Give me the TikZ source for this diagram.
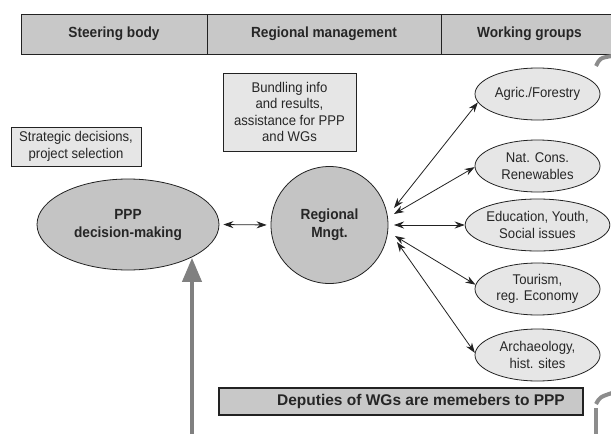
\documentclass[tikz,border=0pt]{standalone}
\usepackage{fontspec}
\setmainfont{Liberation Sans}[FakeStretch=0.93]
\newfontfamily\plainsans{Liberation Sans}
\usetikzlibrary{shapes.geometric,arrows.meta,calc}

\definecolor{barfill}{HTML}{C8C8C8}
\definecolor{boxfill}{HTML}{E6E6E6}
\definecolor{bodyfill}{HTML}{C4C4C4}
\definecolor{inkline}{HTML}{222222}
\definecolor{flowgray}{HTML}{808080}
\definecolor{loopgray}{HTML}{8C8C8C}

\begin{document}
\begin{tikzpicture}[x=1pt,y=-1pt,
  txt/.style={font=\fontsize{14.1}{16.5}\selectfont, align=center, text=black!85},
  hdrcell/.style={draw=inkline, line width=0.9pt, fill=barfill, rectangle,
    minimum height=40, inner sep=0pt,
    font=\bfseries\fontsize{14.7}{17}\selectfont, text=black!85},
  notebox/.style={draw=inkline, line width=0.8pt, fill=boxfill, rectangle,
    inner sep=0pt, txt},
  body/.style={draw=inkline, line width=0.8pt, fill=bodyfill, ellipse,
    inner sep=0pt, font=\bfseries\fontsize{14.7}{18}\selectfont, align=center, text=black!85},
  wg/.style={draw=inkline, line width=0.8pt, fill=boxfill, ellipse,
    minimum width=125, minimum height=52, inner sep=0pt, txt},
  link/.style={draw=inkline, line width=0.8pt,
    {Stealth[length=10pt,width=7pt]}-{Stealth[length=10pt,width=7pt]}},
  flow/.style={draw=flowgray, line width=4pt, -{Triangle[length=24pt,width=19pt]}},
  loop/.style={draw=loopgray, line width=4pt}]

\clip (0,0) rectangle (611,434);
\fill[white] (0,0) rectangle (611,434);

% header with the three levels
\node[hdrcell, minimum width=186] (steer) at (114,34) {Steering body};
\node[hdrcell, minimum width=234] (regm) at (324,34) {Regional management};
\node[hdrcell, minimum width=177] (wgs) at (529.5,34) {Working groups};

% task notes
\node[notebox, minimum width=130, minimum height=39] (strat) at (76,146.5)
  {Strategic decisions,\\project selection};
\node[notebox, minimum width=133, minimum height=78] (bund) at (289.5,112)
  {Bundling info\\and results,\\assistance for PPP\\and WGs};

% bodies
\node[body, minimum width=182, minimum height=91] (ppp) at (128,224.5)
  {PPP\\decision-making};
\node[body, circle, minimum size=117] (rm) at (329.5,225) {Regional\\Mngt.};

% working groups
\node[wg] (agr) at (537.5,94) {Agric./Forestry};
\node[wg] (nat) at (537.5,166) {Nat. Cons.\\Renewables};
\node[wg] (edu) at (537.5,225) {Education, Youth,\\Social issues};
\node[wg] (tou) at (537.5,289) {Tourism,\\reg. Economy};
\node[wg] (arc) at (537.5,355) {Archaeology,\\hist. sites};

\node[notebox, fill=barfill, line width=1.2pt, minimum width=364, minimum height=27,
  font=\plainsans\bfseries\fontsize{15.5}{18}\selectfont] (dep) at (401,401.5)
  {\hspace*{40pt}Deputies of WGs are memebers to PPP};

% links between the bodies
\draw[link, shorten <=4pt, shorten >=4pt] (ppp.east) -- (rm.west);

\coordinate (r1) at ($(rm.center)+(64.5,-17)$);
\coordinate (r2) at ($(rm.center)+(64.5,-11)$);
\coordinate (r3) at ($(rm.center)+(64.5,0)$);
\coordinate (r4) at ($(rm.center)+(65.5,11)$);
\coordinate (r5) at ($(rm.center)+(67.5,17)$);

\draw[link] (r1) -- (agr.188);
\draw[link] (r2) -- (nat.181);
\draw[link] (r3) -- (edu.west);
\draw[link] (r4) -- (tou.176);
\draw[link] (r5) -- (arc.178);

% feedback from the working groups into the PPP
\coordinate (fbase) at (192,440);
\draw[flow] (fbase) -- (fbase |- ppp.-28);

\draw[loop] (596,66) .. controls (600,58) .. (612,56);
\draw[loop] (596,404) .. controls (600,397) .. (612,393);
\draw[loop] (596,408) -- (596,440);

\end{tikzpicture}
\end{document}
